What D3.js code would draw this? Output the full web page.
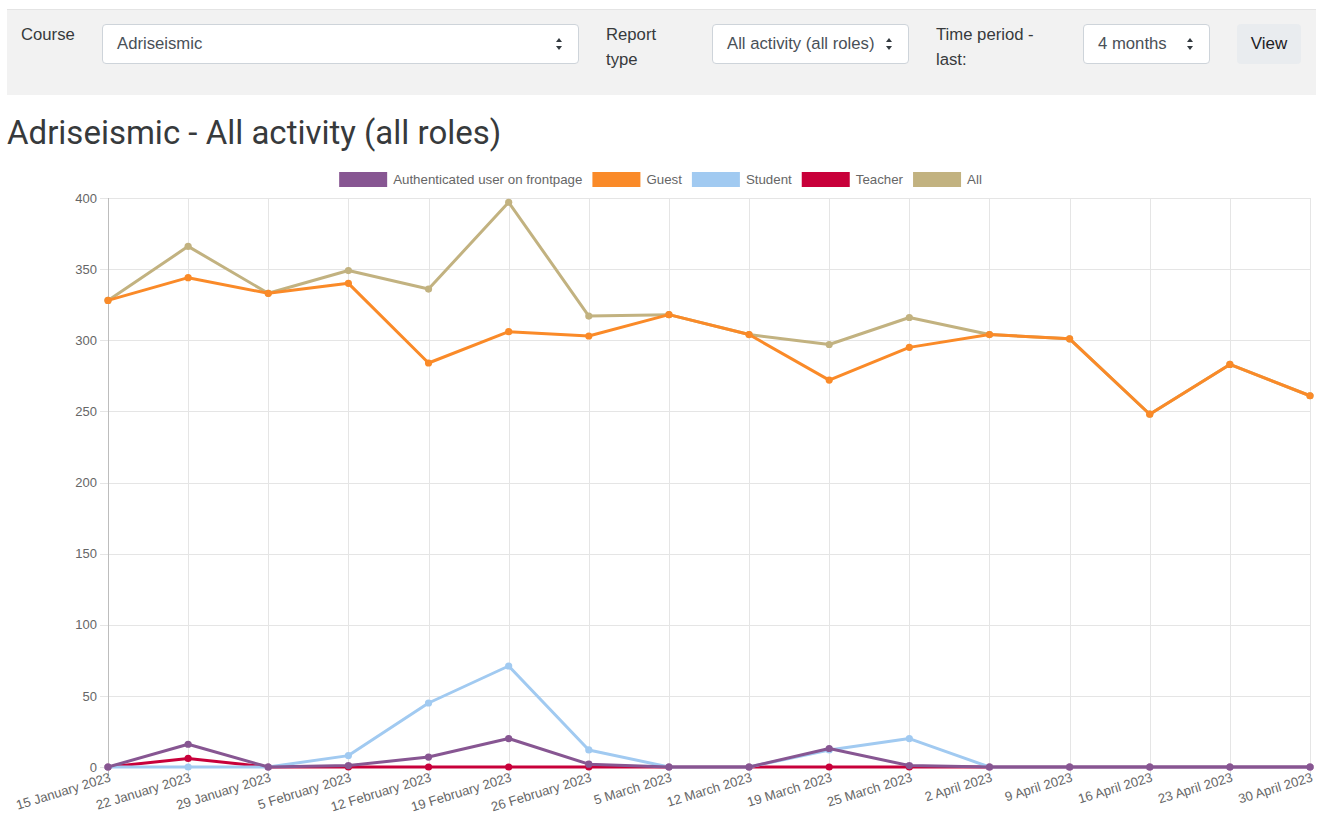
<!DOCTYPE html>
<html>
<head>
<meta charset="utf-8">
<script src="https://cdn.jsdelivr.net/npm/d3@7"></script>
<style>
  html, body { margin: 0; padding: 0; background: #fff; }
  body { width: 1317px; height: 815px; position: relative; overflow: hidden; font-family: "Liberation Sans", Arial, sans-serif; color: #373a3c; }
  .bar { position: absolute; left: 7px; top: 9px; width: 1309px; height: 86px; background: #f2f2f2; border-top: 1px solid #e4e4e4; box-sizing: border-box; }
  .lbl { position: absolute; font-size: 16.7px; line-height: 25px; color: #373a3c; }
  .sel { position: absolute; top: 24px; height: 40px; background: #fff; border: 1px solid #ced4da; border-radius: 4px; box-sizing: border-box; font-size: 16.7px; line-height: 38px; color: #495057; padding-left: 14px; }
  .arrow { position: absolute; top: 0; width: 8px; height: 38px; }
  .btn { position: absolute; left: 1237px; top: 24px; width: 64px; height: 40px; background: #e9ecef; border-radius: 4px; font-size: 17px; line-height: 40px; text-align: center; color: #1d2125; }
  h2 { position: absolute; left: 7px; top: 111px; margin: 0; font-family: Roboto, "Liberation Sans", sans-serif; font-weight: 400; font-size: 33px; line-height: 44px; color: #373a3c; white-space: nowrap; }
  svg#chart { position: absolute; left: 0; top: 0; }
</style>
</head>
<body>
<div class="bar"></div>
<div class="lbl" style="left:21px; top:22px;">Course</div>
<div class="sel" style="left:102px; width:477px;">Adriseismic<svg class="arrow" style="left:452px" viewBox="0 0 8 38"><path d="M1,17 L4,13 L7,17 Z M1,21 L4,25 L7,21 Z" fill="#343a40"/></svg></div>
<div class="lbl" style="left:606px; top:22px;">Report<br>type</div>
<div class="sel" style="left:712px; width:197px;">All activity (all roles)<svg class="arrow" style="left:172px" viewBox="0 0 8 38"><path d="M1,17 L4,13 L7,17 Z M1,21 L4,25 L7,21 Z" fill="#343a40"/></svg></div>
<div class="lbl" style="left:936px; top:22px;">Time period -<br>last:</div>
<div class="sel" style="left:1083px; width:127px;">4 months<svg class="arrow" style="left:102px" viewBox="0 0 8 38"><path d="M1,17 L4,13 L7,17 Z M1,21 L4,25 L7,21 Z" fill="#343a40"/></svg></div>
<div class="btn">View</div>
<h2>Adriseismic - All activity (all roles)</h2>
<svg id="chart" width="1317" height="815"></svg>
<script>
// ---- data ----
const dates = ["15 January 2023","22 January 2023","29 January 2023","5 February 2023","12 February 2023","19 February 2023","26 February 2023","5 March 2023","12 March 2023","19 March 2023","25 March 2023","2 April 2023","9 April 2023","16 April 2023","23 April 2023","30 April 2023"];
const seriesNames = ["Authenticated user on frontpage","Guest","Student","Teacher","All"];
const authenticated = [0,16,0,1,7,20,2,0,0,13,1,0,0,0,0,0];
const guest = [328,344,333,340,284,306,303,318,304,272,295,304,301,248,283,261];
const student = [0,0,0,8,45,71,12,0,0,12,20,0,0,0,0,0];
const teacher = [0,6,0,0,0,0,0,0,0,0,0,0,0,0,0,0];
const allRoles = [328,366,333,349,336,397,317,318,304,297,316,304,301,248,283,261];
const yTicks = [0,50,100,150,200,250,300,350,400];
const colors = ["#875692","#fa8a28","#a1caf1","#c8003a","#c2b280"];

const seriesValues = [authenticated, guest, student, teacher, allRoles];
const series = seriesNames.map((n,i)=>({name:n, values:seriesValues[i], color:colors[i]}));

const svg = d3.select("#chart");
const pLeft = 108, pRight = 1310, pTop = 198, pBottom = 767;
const x = d3.scalePoint().domain(dates).range([pLeft, pRight]);
const y = d3.scaleLinear().domain([0,400]).range([pBottom, pTop]);
const font = "'Liberation Sans', Arial, sans-serif";

// grid
const g = svg.append("g");
g.selectAll(".hg").data(yTicks).join("line")
  .attr("x1", pLeft-8).attr("x2", pRight).attr("y1", d=>Math.round(y(d))+0.5).attr("y2", d=>Math.round(y(d))+0.5)
  .attr("stroke", "#e5e5e5").attr("stroke-width", 1);
g.selectAll(".vg").data(dates).join("line")
  .attr("x1", d=>Math.round(x(d))+0.5).attr("x2", d=>Math.round(x(d))+0.5).attr("y1", pTop).attr("y2", pBottom+8)
  .attr("stroke", (d,i)=> i===0 ? "#bdbdbd" : "#e5e5e5").attr("stroke-width", 1);

// y axis labels
const yAxis = d3.axisLeft(y).tickValues(yTicks).tickSize(0).tickPadding(11);
const ya = svg.append("g").attr("transform", `translate(${pLeft},0)`).call(yAxis);
ya.select(".domain").remove();
ya.selectAll("text").attr("font-family", font).attr("font-size", 13).attr("fill", "#666");

// x axis labels
const xAxis = d3.axisBottom(x).tickSize(0).tickPadding(0);
const xa = svg.append("g").attr("transform", `translate(0,${pBottom})`).call(xAxis);
xa.select(".domain").remove();
xa.selectAll("text")
  .attr("font-family", font).attr("font-size", 13.2).attr("fill", "#666")
  .attr("text-anchor", "end").attr("y", 0).attr("dy", "0.8em")
  .attr("transform", "translate(0,4) rotate(-17)");

// lines (All drawn first, Authenticated last on top)
const line = d3.line().x((d,i)=>x(dates[i])).y(d=>y(d));
const order = series.slice().reverse();
order.forEach(s=>{
  svg.append("path").attr("d", line(s.values)).attr("fill","none")
    .attr("stroke", s.color).attr("stroke-width", 3).attr("stroke-linejoin","round");
  svg.append("g").selectAll("circle").data(s.values).join("circle")
    .attr("cx", (d,i)=>x(dates[i])).attr("cy", d=>y(d)).attr("r", 3.6).attr("fill", s.color);
});

// legend
const leg = svg.append("g");
const boxW = 48, boxH = 15, gapT = 6, gapI = 10, ly = 172;
const items = leg.selectAll("g").data(series).join("g");
items.append("rect").attr("width", boxW).attr("height", boxH).attr("fill", d=>d.color);
items.append("text").attr("x", boxW+gapT).attr("y", boxH/2).attr("dy","0.35em")
  .attr("font-family", font).attr("font-size", 13.3).attr("fill", "#666").text(d=>d.name);
let widths = [];
items.each(function(){ widths.push(boxW + gapT + this.querySelector("text").getComputedTextLength()); });
const total = d3.sum(widths) + gapI*(widths.length-1);
let cx = 660.5 - total/2;
items.attr("transform", (d,i)=>{ const t = `translate(${cx},${ly})`; cx += widths[i] + gapI; return t; });
</script>
</body>
</html>
